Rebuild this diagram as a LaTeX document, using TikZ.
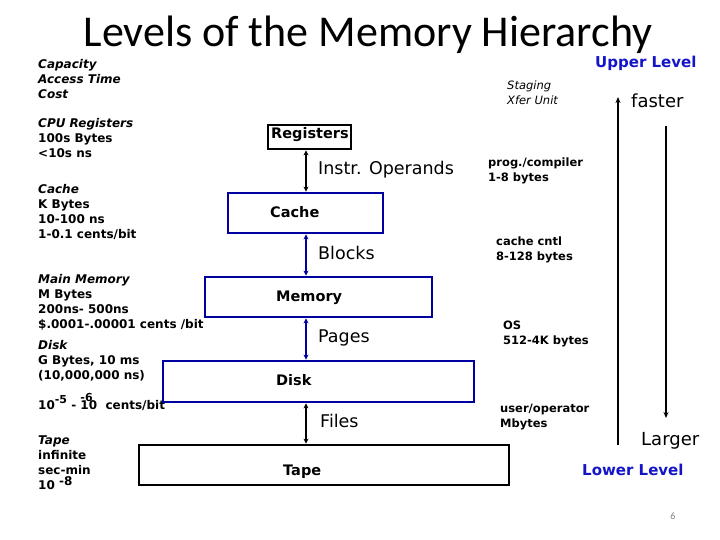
\documentclass[tikz,border=0pt]{standalone}
\usepackage{fontspec}
\usetikzlibrary{arrows.meta}
\setmainfont{DejaVu Sans}
\newfontfamily\titlefont{Carlito}
\definecolor{boxblue}{RGB}{0,0,160}
\definecolor{lvlblue}{RGB}{20,20,200}
\tikzset{
  lefttxt/.style={anchor=base west, inner sep=0pt, align=left, font=\fontsize{12}{15}\selectfont\bfseries},
  righttxt/.style={anchor=base west, inner sep=0pt, align=left, font=\fontsize{11.5}{15}\selectfont\bfseries},
  boxlbl/.style={anchor=base west, inner sep=0pt, font=\fontsize{14.5}{17}\selectfont\bfseries},
  arrlbl/.style={anchor=base west, inner sep=0pt, font=\fontsize{17.5}{20}\selectfont},
  lvl/.style={anchor=base west, inner sep=0pt, text=lvlblue, font=\fontsize{15}{18}\selectfont\bfseries},
  blkbox/.style={draw=black, line width=2.8pt, inner sep=0pt},
  bluebox/.style={draw=boxblue, line width=2.8pt, inner sep=0pt},
  conn/.style={line width=1.8pt, {Stealth[length=5pt,width=5pt]}-{Stealth[length=5pt,width=5pt]}},
  longarr/.style={line width=1.8pt, -{Stealth[length=6pt,width=5pt]}},
}
\begin{document}
\begin{tikzpicture}[x=1pt,y=-1pt]
\useasboundingbox (0,0) rectangle (720,540);
% title
\node[anchor=base, inner sep=0pt, font=\titlefont\fontsize{44}{50}\selectfont] (title) at (368,47) {Levels of the Memory Hierarchy};
% left column (y = baseline of last line)
\node[lefttxt] (cap) at (38,99) {\itshape Capacity\\\itshape Access Time\\\itshape Cost};
\node[lefttxt] (lreg) at (38,158) {\itshape CPU Registers\\100s Bytes\\<10s ns};
\node[lefttxt] (lcache) at (38,238) {\itshape Cache\\K Bytes\\10-100 ns\\1-0.1 cents/bit};
\node[lefttxt] (lmem) at (38,328) {\itshape Main Memory\\M Bytes\\200ns- 500ns\\\$.0001-.00001 cents /bit};
\node[lefttxt] (ldisk) at (38,379) {\itshape Disk\\G Bytes, 10 ms\\(10,000,000 ns)};
\node[lefttxt] (ldcost) at (38,409) {10\raisebox{0.5em}{\fontsize{11}{11}\selectfont -5} - \rlap{\raisebox{0.6em}{\fontsize{11}{11}\selectfont -6}}10 \ cents/bit};
\node[lefttxt] (ltape) at (38,489) {\itshape Tape\\infinite\\sec-min\\10 \raisebox{0.3em}{-8}};
% boxes
\node[blkbox, minimum width=83, minimum height=24] (reg) at (309.5,137) {};
\node[bluebox, minimum width=155, minimum height=40] (cache) at (305.5,213) {};
\node[bluebox, minimum width=227, minimum height=40] (mem) at (318.5,297) {};
\node[bluebox, minimum width=311, minimum height=41] (disk) at (318.5,381.5) {};
\node[blkbox, minimum width=370, minimum height=40] (tape) at (324,465) {};
% box labels
\node[boxlbl] (treg) at (271,139) {Registers};
\node[boxlbl] (tcache) at (270,218) {Cache};
\node[boxlbl] (tmem) at (276,301) {Memory};
\node[boxlbl] (tdisk) at (276,385) {Disk};
\node[boxlbl] (ttape) at (283,475) {Tape};
% connectors
\coordinate (ax) at (306,0);
\draw[conn, black] (ax |- reg.south) -- (ax |- cache.north);
\draw[conn, boxblue] (ax |- cache.south) -- (ax |- mem.north);
\draw[conn, boxblue] (ax |- mem.south) -- (ax |- disk.north);
\draw[conn, black] (ax |- disk.south) -- (ax |- tape.north);
% connector labels
\node[arrlbl] (instr) at (318,175) {Instr. Operands};
\node[arrlbl] (blocks) at (318,259) {Blocks};
\node[arrlbl] (pages) at (318,342) {Pages};
\node[arrlbl] (files) at (320,427) {Files};
% right column (y = baseline of last line)
\node[righttxt, font=\fontsize{11.5}{15}\selectfont\itshape] (stag) at (507,105) {Staging\\Xfer Unit};
\node[righttxt] (prog) at (488,182) {prog./compiler\\1-8 bytes};
\node[righttxt] (ccntl) at (496,260) {cache cntl\\8-128 bytes};
\node[righttxt] (os) at (503,344) {OS\\512-4K bytes};
\node[righttxt] (user) at (500,427) {user/operator\\Mbytes};
% levels
\node[lvl] (upper) at (595,68) {Upper Level};
\node[lvl] (lower) at (582,475) {Lower Level};
\coordinate (fa) at (618,445);
\coordinate (fb) at (618,97);
\draw[longarr] (fa) -- (fb);
\coordinate (la) at (666,126);
\coordinate (lb) at (666,418);
\draw[longarr] (la) -- (lb);
\node[arrlbl, font=\fontsize{18}{20}\selectfont] (faster) at (631,108) {faster};
\node[arrlbl, font=\fontsize{18}{20}\selectfont] (larger) at (641,445) {Larger};
\node[anchor=base, inner sep=0pt, text=gray, font=\titlefont\fontsize{10}{12}\selectfont] (pg) at (673,519) {6};
\end{tikzpicture}
\end{document}
